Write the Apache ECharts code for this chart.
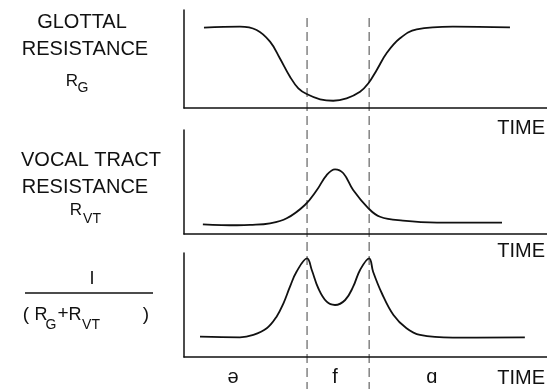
<!DOCTYPE html>
<html>
<head>
<meta charset="utf-8">
<script src="https://cdn.jsdelivr.net/npm/echarts@6/dist/echarts.min.js"></script>
<style>
  html, body { margin: 0; padding: 0; background: #fff; }
  #chart { width: 547px; height: 389px; }
</style>
</head>
<body>
<div id="chart"></div>
<script>
// time in arbitrary units (0..100), values in arbitrary units (0..100)
var glottalTime = [5.5, 15.4, 20.0, 23.7, 26.4, 29.2, 31.5, 33.8, 37.5, 41.1, 44.8, 48.5, 50.8, 53.1, 55.8, 59.5, 64.1, 74.1, 89.8];
var glottalRes  = [82, 83, 79.6, 67.7, 50.7, 31.9, 20.1, 14.3, 8.9, 7.4, 9.9, 16.6, 25.2, 38.8, 55.8, 71.1, 80.3, 83, 82.3];

var tractTime = [5.2, 14.6, 18.2, 23.7, 28.3, 33.3, 36.6, 39.3, 41.6, 43.9, 46.6, 50.8, 54.0, 60.3, 69.7, 87.6];
var tractRes  = [9.3, 8.4, 8.7, 10.3, 15.1, 27.9, 42.3, 56.7, 62.2, 58.4, 42.3, 24.7, 16.6, 12.8, 10.9, 10.9];

var sumTime = [4.4, 15.4, 19.1, 22.8, 25.5, 27.4, 29.2, 31.0, 33.9, 35.2, 37.0, 39.3, 41.6, 44.4, 46.6, 48.5, 51.0, 52.1, 54.5, 57.7, 61.3, 65.0, 74.1, 93.9];
var sumInv  = [19.5, 18.9, 21.2, 27.6, 38.8, 51.6, 67.6, 82.0, 94.9, 83.7, 66.1, 53.2, 50, 54.8, 67.6, 83.7, 94.9, 82.0, 61.3, 40.4, 27.6, 21.2, 18.6, 18.9];

var boundaries = [33.9, 51.0];
var phonemes = ['ə', 'f', 'ɑ'];
var phonemeAt = [13.5, 41.6, 68.3];
var axisName = 'TIME';

var FONT = "'Liberation Sans', 'DejaVu Sans', sans-serif";
var INK = '#111';

function zip(a, b) {
  return a.map(function (x, i) { return [x, b[i]]; });
}

var chart = echarts.init(document.getElementById('chart'));

var grids = [
  { left: 184, top: 10, right: 0, height: 98 },
  { left: 184, top: 130, right: 0, height: 104 },
  { left: 184, top: 253, right: 0, height: 104 }
];

function axis(i) {
  return {
    type: 'value', gridIndex: i, min: 0, max: 100,
    axisLine: { show: true, lineStyle: { color: INK, width: 1.5 } },
    axisTick: { show: false }, axisLabel: { show: false }, splitLine: { show: false }
  };
}
function curve(i, data) {
  return {
    type: 'line', xAxisIndex: i, yAxisIndex: i,
    data: data, showSymbol: false, smooth: 0.4,
    lineStyle: { color: INK, width: 1.8 },
    silent: true, animation: false
  };
}

function txt(s, x, y, size, align) {
  return {
    type: 'text', x: x, y: y, silent: true,
    style: {
      text: s, fill: INK, font: size + 'px ' + FONT,
      align: align || 'center', verticalAlign: 'middle'
    }
  };
}

var labels = [
  txt('GLOTTAL', 82, 22, 20),
  txt('RESISTANCE', 85, 49, 20),
  txt('R', 72, 81, 17), txt('G', 83, 88, 14),

  txt('VOCAL TRACT', 91, 160, 20),
  txt('RESISTANCE', 85, 187, 20),
  txt('R', 76, 210, 17), txt('VT', 92, 219, 14),

  txt('I', 92, 279, 18),
  { type: 'line', silent: true, shape: { x1: 25, y1: 293, x2: 153, y2: 293 }, style: { stroke: INK, lineWidth: 1.3 } },
  txt('(', 26, 315, 19), txt('R', 41, 315, 18), txt('G', 51, 325, 14),
  txt('+', 63, 314, 19), txt('R', 75, 315, 18), txt('VT', 91, 325, 14),
  txt(')', 146, 315, 19),

  txt(axisName, 545, 128, 20, 'right'),
  txt(axisName, 545, 251, 20, 'right'),
  txt(axisName, 545, 378, 20, 'right')
];

chart.setOption({
  backgroundColor: '#fff',
  animation: false,
  grid: grids,
  xAxis: [axis(0), axis(1), axis(2)],
  yAxis: [axis(0), axis(1), axis(2)],
  series: [
    curve(0, zip(glottalTime, glottalRes)),
    curve(1, zip(tractTime, tractRes)),
    curve(2, zip(sumTime, sumInv))
  ],
  graphic: labels
});

// dashed phoneme boundaries and phoneme labels placed through the x scale
var extra = [];
boundaries.forEach(function (b) {
  var px = chart.convertToPixel({ xAxisIndex: 0 }, b);
  extra.push({
    type: 'line', silent: true,
    shape: { x1: px, y1: 18, x2: px, y2: 389 },
    style: { stroke: '#444', lineWidth: 1, lineDash: [9, 5] }
  });
});
phonemes.forEach(function (p, i) {
  var px = chart.convertToPixel({ xAxisIndex: 2 }, phonemeAt[i]);
  extra.push(txt(p, px, 377, 20));
});
chart.setOption({ graphic: labels.concat(extra) });
</script>
</body>
</html>
